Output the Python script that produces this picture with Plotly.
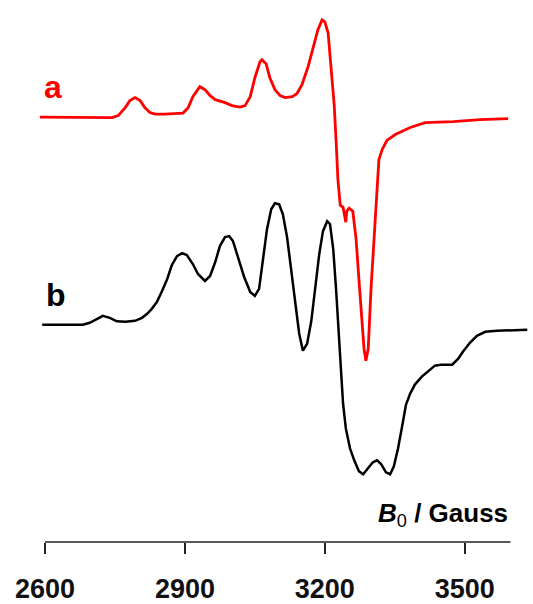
import plotly.graph_objects as go

# EPR spectra: field (Gauss) and first-derivative signal (arbitrary units, baseline = 0)
field_a = [2589, 2739, 2744, 2757, 2772, 2782, 2793, 2804, 2814, 2825, 2836, 2857, 2896, 2907,
           2917, 2932, 2943, 2954, 2965, 2986, 3001, 3018, 3029, 3040, 3050, 3061, 3065, 3074,
           3082, 3093, 3104, 3115, 3130, 3140, 3151, 3164, 3177, 3185, 3194, 3200, 3207, 3213,
           3220, 3224, 3228, 3233, 3239, 3243, 3245, 3247, 3252, 3260, 3267, 3273, 3280, 3284,
           3288, 3293, 3299, 3306, 3312, 3316, 3323, 3333, 3351, 3383, 3415, 3475, 3533, 3593]
signal_a = [0, 0, -0.5, 1.5, 9.5, 16.5, 19.5, 16.5, 9.5, 4.5, 3, 3, 4, 9.5,
            20.5, 30.5, 27.5, 21.5, 17.5, 14.5, 11.5, 10, 11.5, 20.5, 39.5, 55.5, 57.5, 53.5,
            39.5, 27.5, 21.5, 19.5, 20.5, 23.5, 32.5, 50.5, 72.5, 87.5, 97.5, 95.5, 84.5, 50.5,
            12.5, -22.5, -62.5, -88.5, -90.5, -100.5, -105.5, -94.5, -91.5, -94.5, -122.5, -162.5, -202.5, -232.5,
            -244.5, -232.5, -172.5, -112.5, -72.5, -42.5, -32.5, -23.5, -17.5, -10.5, -5.5, -4.5, -2.5, -1.5]

field_b = [2594, 2681, 2696, 2711, 2724, 2739, 2754, 2772, 2793, 2808, 2819, 2829, 2840, 2851,
           2862, 2872, 2883, 2894, 2904, 2917, 2928, 2943, 2954, 2965, 2975, 2986, 2995, 3003,
           3014, 3027, 3040, 3050, 3059, 3067, 3076, 3085, 3093, 3102, 3110, 3119, 3127, 3136,
           3145, 3153, 3162, 3171, 3179, 3188, 3196, 3205, 3211, 3218, 3224, 3230, 3235, 3239,
           3245, 3254, 3263, 3273, 3282, 3293, 3303, 3312, 3321, 3331, 3340, 3348, 3357, 3366,
           3374, 3383, 3393, 3408, 3423, 3436, 3449, 3473, 3486, 3496, 3511, 3526, 3544, 3569, 3634]
signal_b = [0, 0, 2, 6, 9, 7, 3.5, 3, 4, 7, 11, 16, 23, 34,
            46, 60, 69, 72, 70, 61, 51, 44, 49, 63, 79, 88, 89, 84,
            68, 48, 33, 29, 36, 64, 96, 116, 122, 121, 111, 88, 58, 23,
            -9, -26, -19, 4, 36, 71, 94, 104, 101, 76, 36, -14, -49, -79,
            -104, -124, -136, -147, -150, -144, -138, -136, -140, -148, -150, -142, -124, -101,
            -80, -69, -60, -52, -46, -41, -40, -40, -34, -27, -18, -11, -7, -6, -5]

tick_vals = [2600, 2900, 3200, 3500]
tick_text = ["2600", "2900", "3200", "3500"]
trace_labels = ["a", "b"]

offset_a = 426.5
offset_b = 218.0

fig = go.Figure()
fig.add_trace(go.Scatter(x=field_a, y=[v + offset_a for v in signal_a], mode="lines",
                         line=dict(color="#ff0000", width=2.8), hoverinfo="skip"))
fig.add_trace(go.Scatter(x=field_b, y=[v + offset_b for v in signal_b], mode="lines",
                         line=dict(color="#000000", width=2.5), hoverinfo="skip"))

# horizontal axis line stops at 3600 G while the spectrum runs slightly past it
fig.add_shape(type="line", xref="x", yref="paper", x0=2600, x1=3598, y0=0, y1=0,
              line=dict(color="#222222", width=1.6))

fig.add_annotation(x=2600, y=offset_a + 30, xref="x", yref="y", text="<b>" + trace_labels[0] + "</b>",
                   showarrow=False, xanchor="left", xshift=-3,
                   font=dict(family="Liberation Sans, Arial", size=32, color="#ff0000"))
fig.add_annotation(x=2600, y=offset_b + 30, xref="x", yref="y", text="<b>" + trace_labels[1] + "</b>",
                   showarrow=False, xanchor="left", xshift=-1,
                   font=dict(family="Liberation Sans, Arial", size=32, color="#000000"))
fig.add_annotation(x=3598, y=0, xref="x", yref="paper", yshift=28,
                   text="<b><i>B</i></b><sub>0</sub><b> / Gauss</b>",
                   showarrow=False, xanchor="right", yanchor="middle",
                   font=dict(family="Liberation Sans, Arial", size=26, color="#000000"))

fig.update_layout(
    width=533, height=604,
    margin=dict(l=38, r=2, t=0, b=60),
    paper_bgcolor="white", plot_bgcolor="white",
    showlegend=False,
    xaxis=dict(range=[2585, 3642], showline=False, showgrid=False, zeroline=False,
               tickmode="array", tickvals=tick_vals, ticktext=tick_text,
               ticks="outside", ticklen=11, tickwidth=1.6, tickcolor="#222222",
               ticklabelstandoff=12,
               tickfont=dict(family="Liberation Sans, Arial", size=27, color="#111111", weight="bold")),
    yaxis=dict(range=[0, 544], visible=False),
)

fig.write_html("out.html")
